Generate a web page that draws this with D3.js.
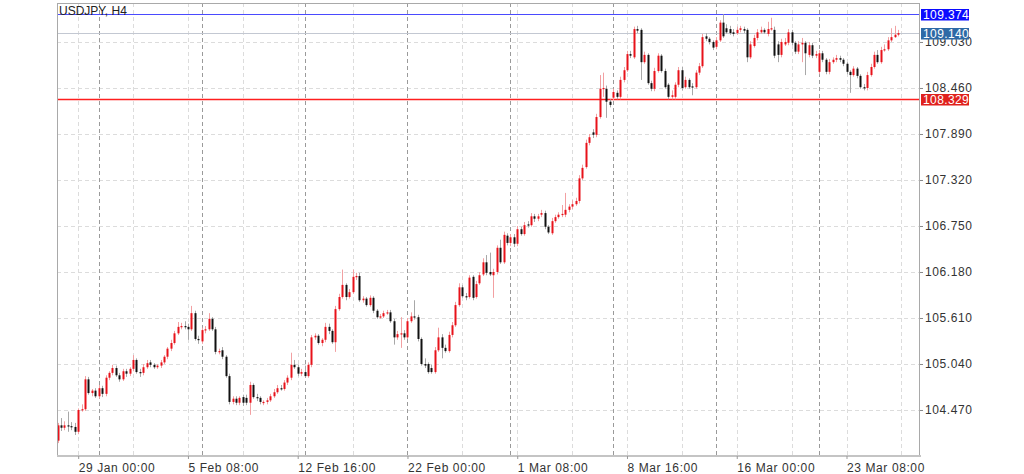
<!DOCTYPE html>
<html><head><meta charset="utf-8">
<script src="https://cdn.jsdelivr.net/npm/d3@7/dist/d3.min.js"></script>
<style>
html,body{margin:0;padding:0;background:#fff;}
svg{display:block;font-family:"Liberation Sans",Arial,Helvetica,sans-serif;}
</style></head>
<body>
<svg id="c" width="1024" height="474"></svg>
<script>
const symbolTitle = "USDJPY, H4";
const firstCandleUTC = "2021-01-28T00:00:00Z";
const tickLabels = ["29 Jan 00:00","5 Feb 08:00","12 Feb 16:00","22 Feb 00:00","1 Mar 08:00","8 Mar 16:00","16 Mar 00:00","23 Mar 08:00"];
const yTicks = [104.470,105.040,105.610,106.180,106.750,107.320,107.890,108.460,109.030];
const levelValues = [109.374, 109.140, 108.329];

const opens = [104.09,104.28,104.25,104.28,104.27,104.26,104.20,104.47,104.48,104.85,104.68,104.71,104.64,104.74,104.67,104.87,104.93,104.99,104.90,104.85,104.95,104.92,104.98,105.09,104.94,104.93,105.00,105.06,105.03,105.00,105.02,105.06,105.13,105.23,105.30,105.42,105.50,105.51,105.50,105.47,105.67,105.35,
105.32,105.46,105.47,105.60,105.47,105.19,105.21,105.13,104.89,104.57,104.61,104.56,104.63,104.62,104.56,104.78,104.63,104.62,104.56,104.57,104.59,104.64,104.69,104.74,104.73,104.81,104.87,105.03,105.00,104.92,
104.94,104.89,105.03,105.37,105.39,105.30,105.34,105.50,105.45,105.31,105.72,105.87,106.02,105.87,105.93,106.12,106.13,105.83,105.85,105.77,105.86,105.70,105.62,105.63,105.67,105.68,105.57,105.37,105.41,105.42,
105.37,105.57,105.63,105.62,105.35,105.04,105.04,104.99,104.94,105.21,105.37,105.24,105.20,105.40,105.52,105.77,105.99,105.88,105.87,106.12,105.87,106.04,106.15,106.30,106.18,106.14,106.18,106.48,106.30,106.63,
106.54,106.61,106.53,106.71,106.65,106.77,106.76,106.87,106.84,106.89,106.91,106.74,106.66,106.81,106.86,106.89,106.89,106.95,106.99,107.02,107.06,107.34,107.48,107.78,107.91,107.88,108.10,108.45,108.45,108.29,
108.34,108.40,108.35,108.56,108.68,108.88,108.84,109.19,109.18,108.78,108.87,108.52,108.45,108.67,108.86,108.67,108.50,108.35,108.35,108.50,108.68,108.47,108.56,108.48,108.47,108.65,108.73,109.10,109.07,109.03,
108.97,109.05,109.27,109.20,109.19,109.15,109.14,109.18,109.19,109.18,108.84,108.98,109.08,109.15,109.18,109.13,109.19,109.18,109.00,108.87,109.00,109.02,109.15,109.02,108.91,109.00,109.02,108.87,108.99,108.86,
108.66,108.89,108.81,108.66,108.78,108.81,108.83,108.81,108.76,108.66,108.62,108.70,108.61,108.47,108.46,108.62,108.72,108.87,108.78,108.93,108.94,109.05,109.09,109.12];

const highs = [104.31,104.37,104.33,104.45,104.32,104.31,104.49,104.54,104.89,104.88,104.73,104.74,104.78,104.77,104.90,104.95,105.03,105.02,104.93,104.98,104.98,105.00,105.15,105.11,104.98,105.04,105.09,105.09,105.05,105.04,105.09,105.15,105.25,105.34,105.45,105.56,105.55,105.57,105.54,105.76,105.70,105.39,
105.49,105.51,105.67,105.62,105.50,105.23,105.25,105.15,104.92,104.64,104.64,104.64,104.66,104.66,104.82,104.80,104.67,104.64,104.59,104.62,104.67,104.73,104.78,104.78,104.84,104.90,105.18,105.09,105.03,104.98,
105.02,105.06,105.40,105.42,105.41,105.36,105.55,105.54,105.47,105.76,105.91,106.21,106.04,105.97,106.21,106.17,106.17,105.88,105.87,105.89,105.88,105.72,105.66,105.70,105.71,105.71,105.60,105.45,105.62,105.46,
105.61,105.68,105.83,105.65,105.37,105.11,105.06,105.03,105.25,105.49,105.41,105.28,105.44,105.56,105.81,106.04,106.02,105.92,106.14,106.14,106.07,106.18,106.35,106.39,106.42,106.22,106.51,106.58,106.68,106.66,
106.65,106.65,106.75,106.74,106.80,106.81,106.91,106.90,106.90,106.95,106.94,106.76,106.85,106.89,106.92,107.01,107.16,107.02,107.07,107.10,107.38,107.51,107.82,107.89,107.95,108.14,108.62,108.65,108.49,108.32,
108.45,108.43,108.60,108.72,108.92,108.92,109.22,109.23,109.20,108.91,108.89,108.55,108.71,108.89,108.88,108.70,108.52,108.43,108.53,108.72,108.72,108.60,108.58,108.52,108.68,108.77,109.13,109.14,109.09,109.05,
109.09,109.30,109.374,109.25,109.23,109.19,109.22,109.23,109.22,109.20,109.04,109.12,109.19,109.22,109.20,109.28,109.33,109.22,109.04,109.07,109.08,109.19,109.18,109.04,109.04,109.08,109.04,109.03,109.02,108.92,
108.93,108.92,108.83,108.82,108.84,108.87,108.86,108.83,108.78,108.68,108.73,108.72,108.63,108.51,108.66,108.76,108.91,108.93,108.97,109.00,109.09,109.20,109.23,109.18];

const lows = [104.06,104.21,104.22,104.20,104.22,104.16,104.17,104.45,104.46,104.66,104.64,104.62,104.61,104.63,104.64,104.84,104.90,104.88,104.82,104.83,104.88,104.89,104.95,104.92,104.88,104.90,104.98,105.00,104.98,104.98,104.99,105.04,105.10,105.20,105.28,105.40,105.47,105.47,105.34,105.45,105.33,105.29,
105.29,105.42,105.45,105.45,105.16,105.16,105.10,104.87,104.54,104.54,104.53,104.53,104.52,104.53,104.41,104.61,104.58,104.54,104.53,104.54,104.57,104.62,104.67,104.71,104.71,104.78,104.84,104.98,104.89,104.89,
104.87,104.87,105.00,105.34,105.28,105.26,105.31,105.41,105.29,105.19,105.70,105.85,105.83,105.85,105.91,106.08,105.81,105.80,105.75,105.75,105.67,105.60,105.60,105.61,105.65,105.55,105.28,105.34,105.24,105.34,
105.35,105.55,105.59,105.32,105.02,104.99,104.92,104.92,104.92,105.19,105.11,105.18,105.18,105.37,105.50,105.75,105.86,105.83,105.85,105.83,105.85,106.02,106.13,106.14,106.13,105.86,106.15,106.28,106.28,106.51,
106.50,106.49,106.50,106.63,106.63,106.73,106.74,106.80,106.81,106.86,106.71,106.65,106.64,106.79,106.84,106.86,106.86,106.92,106.96,107.00,107.03,107.32,107.46,107.75,107.84,107.85,108.08,108.35,108.09,108.22,
108.31,108.32,108.32,108.53,108.66,108.83,108.82,109.14,108.56,108.76,108.50,108.42,108.42,108.65,108.65,108.45,108.32,108.32,108.32,108.47,108.43,108.45,108.45,108.37,108.45,108.62,108.71,109.04,109.00,108.93,
108.94,109.03,109.08,109.13,109.12,109.10,109.12,109.15,109.14,108.78,108.82,108.96,109.05,109.13,109.13,109.10,109.17,108.83,108.78,108.84,108.98,108.99,108.99,108.88,108.88,108.78,108.62,108.84,108.83,108.83,
108.63,108.78,108.63,108.63,108.76,108.78,108.78,108.73,108.63,108.40,108.60,108.58,108.45,108.43,108.43,108.60,108.70,108.76,108.76,108.91,108.92,109.03,109.08,109.10];

const closes = [104.28,104.25,104.28,104.27,104.26,104.20,104.47,104.48,104.85,104.68,104.71,104.64,104.74,104.67,104.87,104.93,104.99,104.90,104.85,104.95,104.92,104.98,105.09,104.94,104.93,105.00,105.05,105.03,105.00,105.02,105.06,105.13,105.23,105.30,105.42,105.50,105.51,105.50,105.47,105.67,105.35,105.34,
105.46,105.47,105.60,105.47,105.19,105.20,105.13,104.89,104.57,104.61,104.56,104.62,104.56,104.56,104.78,104.63,104.62,104.57,104.57,104.59,104.64,104.69,104.74,104.73,104.81,104.87,105.03,105.00,104.92,104.94,
104.89,105.03,105.37,105.39,105.30,105.34,105.50,105.45,105.31,105.72,105.87,106.02,105.87,105.93,106.12,106.13,105.83,105.85,105.77,105.86,105.70,105.62,105.63,105.67,105.68,105.57,105.37,105.41,105.42,105.37,
105.57,105.63,105.62,105.35,105.04,105.02,104.94,104.94,105.21,105.37,105.24,105.20,105.40,105.52,105.77,105.99,105.88,105.87,106.11,105.86,106.03,106.14,106.30,106.17,106.15,106.18,106.48,106.30,106.64,106.54,
106.61,106.53,106.71,106.65,106.76,106.76,106.87,106.84,106.87,106.91,106.74,106.67,106.81,106.86,106.89,106.90,106.95,106.99,107.02,107.06,107.34,107.47,107.78,107.85,107.88,108.10,108.45,108.46,108.29,108.25,
108.41,108.35,108.56,108.68,108.88,108.86,109.19,109.17,108.78,108.87,108.52,108.45,108.67,108.86,108.67,108.47,108.35,108.37,108.50,108.68,108.46,108.56,108.47,108.47,108.65,108.73,109.09,109.07,109.03,108.96,
109.05,109.27,109.10,109.15,109.14,109.13,109.18,109.20,109.17,108.84,109.00,109.08,109.15,109.18,109.15,109.19,109.20,108.86,108.87,109.03,109.03,109.15,109.02,108.91,109.00,109.02,108.89,108.99,108.86,108.88,
108.89,108.81,108.66,108.78,108.81,108.83,108.81,108.76,108.66,108.62,108.70,108.61,108.47,108.46,108.62,108.72,108.87,108.78,108.93,108.94,109.05,109.09,109.12,109.14];

const n = closes.length;
const times = [];
{
  let t = new Date(firstCandleUTC);
  while (times.length < n) {
    const d = t.getUTCDay();
    if (d !== 0 && d !== 6) times.push(new Date(t));
    t = new Date(t.getTime() + 4*3600*1000);
  }
}
const fmt = d3.utcFormat("%-d %b %H:%M");
const candles = times.map((t,i)=>({i, t, o:opens[i], h:highs[i], l:lows[i], c:closes[i]}));

const L = 57, R = 920, T = 3, B = 456;
const svg = d3.select("#c");
const x = d3.scaleLinear().domain([0, n-1]).range([57.6, 57.6 + (n-1)*3.43]);
const y = d3.scaleLinear().domain([103.9, 109.513]).range([B, T]);

svg.append("defs").append("clipPath").attr("id","plot")
  .append("rect").attr("x",L).attr("y",T).attr("width",R-L).attr("height",B-T);

const tickIdx = tickLabels.map(lb => candles.findIndex(c => fmt(c.t) === lb));
const gridIdx = [];
tickIdx.forEach((v,k)=>{
  gridIdx.push(v);
  const nxt = k < tickIdx.length-1 ? tickIdx[k+1] : v + (tickIdx[1]-tickIdx[0]);
  gridIdx.push((v+nxt)/2);
});
const sepIdx = candles.filter(c => c.t.getUTCDay()===1 && c.t.getUTCHours()===0).map(c=>c.i);

const g = svg.append("g");
g.selectAll("line.hg").data(yTicks).join("line").attr("class","hg")
  .attr("x1",L).attr("x2",R)
  .attr("y1",d=>Math.round(y(d))+0.5).attr("y2",d=>Math.round(y(d))+0.5)
  .style("stroke","#dcdcdc").attr("stroke-dasharray","4,3");
g.selectAll("line.vg").data(gridIdx.filter(v=>x(v)<R)).join("line").attr("class","vg")
  .attr("x1",d=>Math.round(x(d))+0.5).attr("x2",d=>Math.round(x(d))+0.5)
  .attr("y1",T).attr("y2",B)
  .style("stroke","#dcdcdc").attr("stroke-dasharray","4,3");
g.selectAll("line.sep").data(sepIdx).join("line").attr("class","sep")
  .attr("x1",d=>Math.round(x(d))+0.5).attr("x2",d=>Math.round(x(d))+0.5)
  .attr("y1",T).attr("y2",B)
  .style("stroke","#9a9a9a").attr("stroke-dasharray","4,3");

// level lines
const levelColors = ["#4a4aff","#c3c8d2","#ff1e1e"];
const levelBg = ["#0b0bff","#2e6aa6","#e0211d"];
const lv = svg.append("g");
levelValues.forEach((v,i)=>{
  lv.append("rect").attr("class","lvl")
    .attr("x",L).attr("width",R-L)
    .attr("y",Math.round(y(v))-(i===2?0.25:0)).attr("height",i===2?1.5:1)
    .style("fill",levelColors[i]);
});

// candles
const cg = svg.append("g").attr("clip-path","url(#plot)");
cg.selectAll("rect.wick").data(candles).join("rect").attr("class","wick")
  .attr("x",d=>Math.round(x(d.i))).attr("width",1)
  .attr("y",d=>y(d.h)).attr("height",d=>Math.max(1,y(d.l)-y(d.h)))
  .style("fill",d=>d.c>=d.o ? "#f2a0a2" : "#a8a8a8");
cg.selectAll("rect.body").data(candles).join("rect").attr("class","body")
  .attr("x",d=>Math.round(x(d.i))-0.5).attr("width",2)
  .attr("y",d=>y(Math.max(d.o,d.c)))
  .attr("height",d=>Math.max(1.2,Math.abs(y(d.o)-y(d.c))))
  .style("fill",d=>d.c>=d.o ? "#e8121a" : "#111111");

// frame
svg.append("rect").attr("x",L+0.5).attr("y",T+0.5).attr("width",R-L-1).attr("height",B-T-1)
  .attr("fill","none").style("stroke","#a9a9a9");
svg.append("line").attr("x1",L).attr("x2",R+1).attr("y1",B).attr("y2",B)
  .style("stroke","#c4c4c4").attr("stroke-width",2);

// y axis
const ya = svg.append("g").attr("transform",`translate(${R},0)`)
  .call(d3.axisRight(y).tickValues(yTicks).tickFormat(d3.format(".3f")).tickSize(3).tickPadding(2));
ya.select(".domain").remove();
ya.selectAll("line").style("stroke","#888");
ya.selectAll("text").attr("fill","#333").style("font-size","12px")
  .style("font-family","'Liberation Sans',Arial,sans-serif").style("letter-spacing","0.6px");

// x axis labels
const xa = svg.append("g").attr("transform",`translate(0,${B})`)
  .call(d3.axisBottom(x).tickValues(tickIdx).tickFormat((d,k)=>tickLabels[k]).tickSize(3).tickPadding(4));
xa.select(".domain").remove();
xa.selectAll("line").style("stroke","#999");
xa.selectAll("text").attr("text-anchor","start").attr("fill","#333").style("font-size","12px")
  .style("font-family","'Liberation Sans',Arial,sans-serif").style("letter-spacing","0.6px");

// title
svg.append("text").attr("x",59).attr("y",15).text(symbolTitle)
  .attr("fill","#222").style("font-size","12px");

// level labels
const lb = svg.append("g").selectAll("g").data(levelValues).join("g")
  .attr("transform",d=>`translate(${R+1},${Math.round(y(d))-5})`);
lb.append("rect").attr("width",48).attr("height",11.5).style("fill",(d,i)=>levelBg[i]);
lb.append("text").attr("x",2).attr("y",10).text(d=>d3.format(".3f")(d))
  .attr("fill","#fff").style("font-size","12px").style("letter-spacing","0.4px");
</script>
</body></html>
